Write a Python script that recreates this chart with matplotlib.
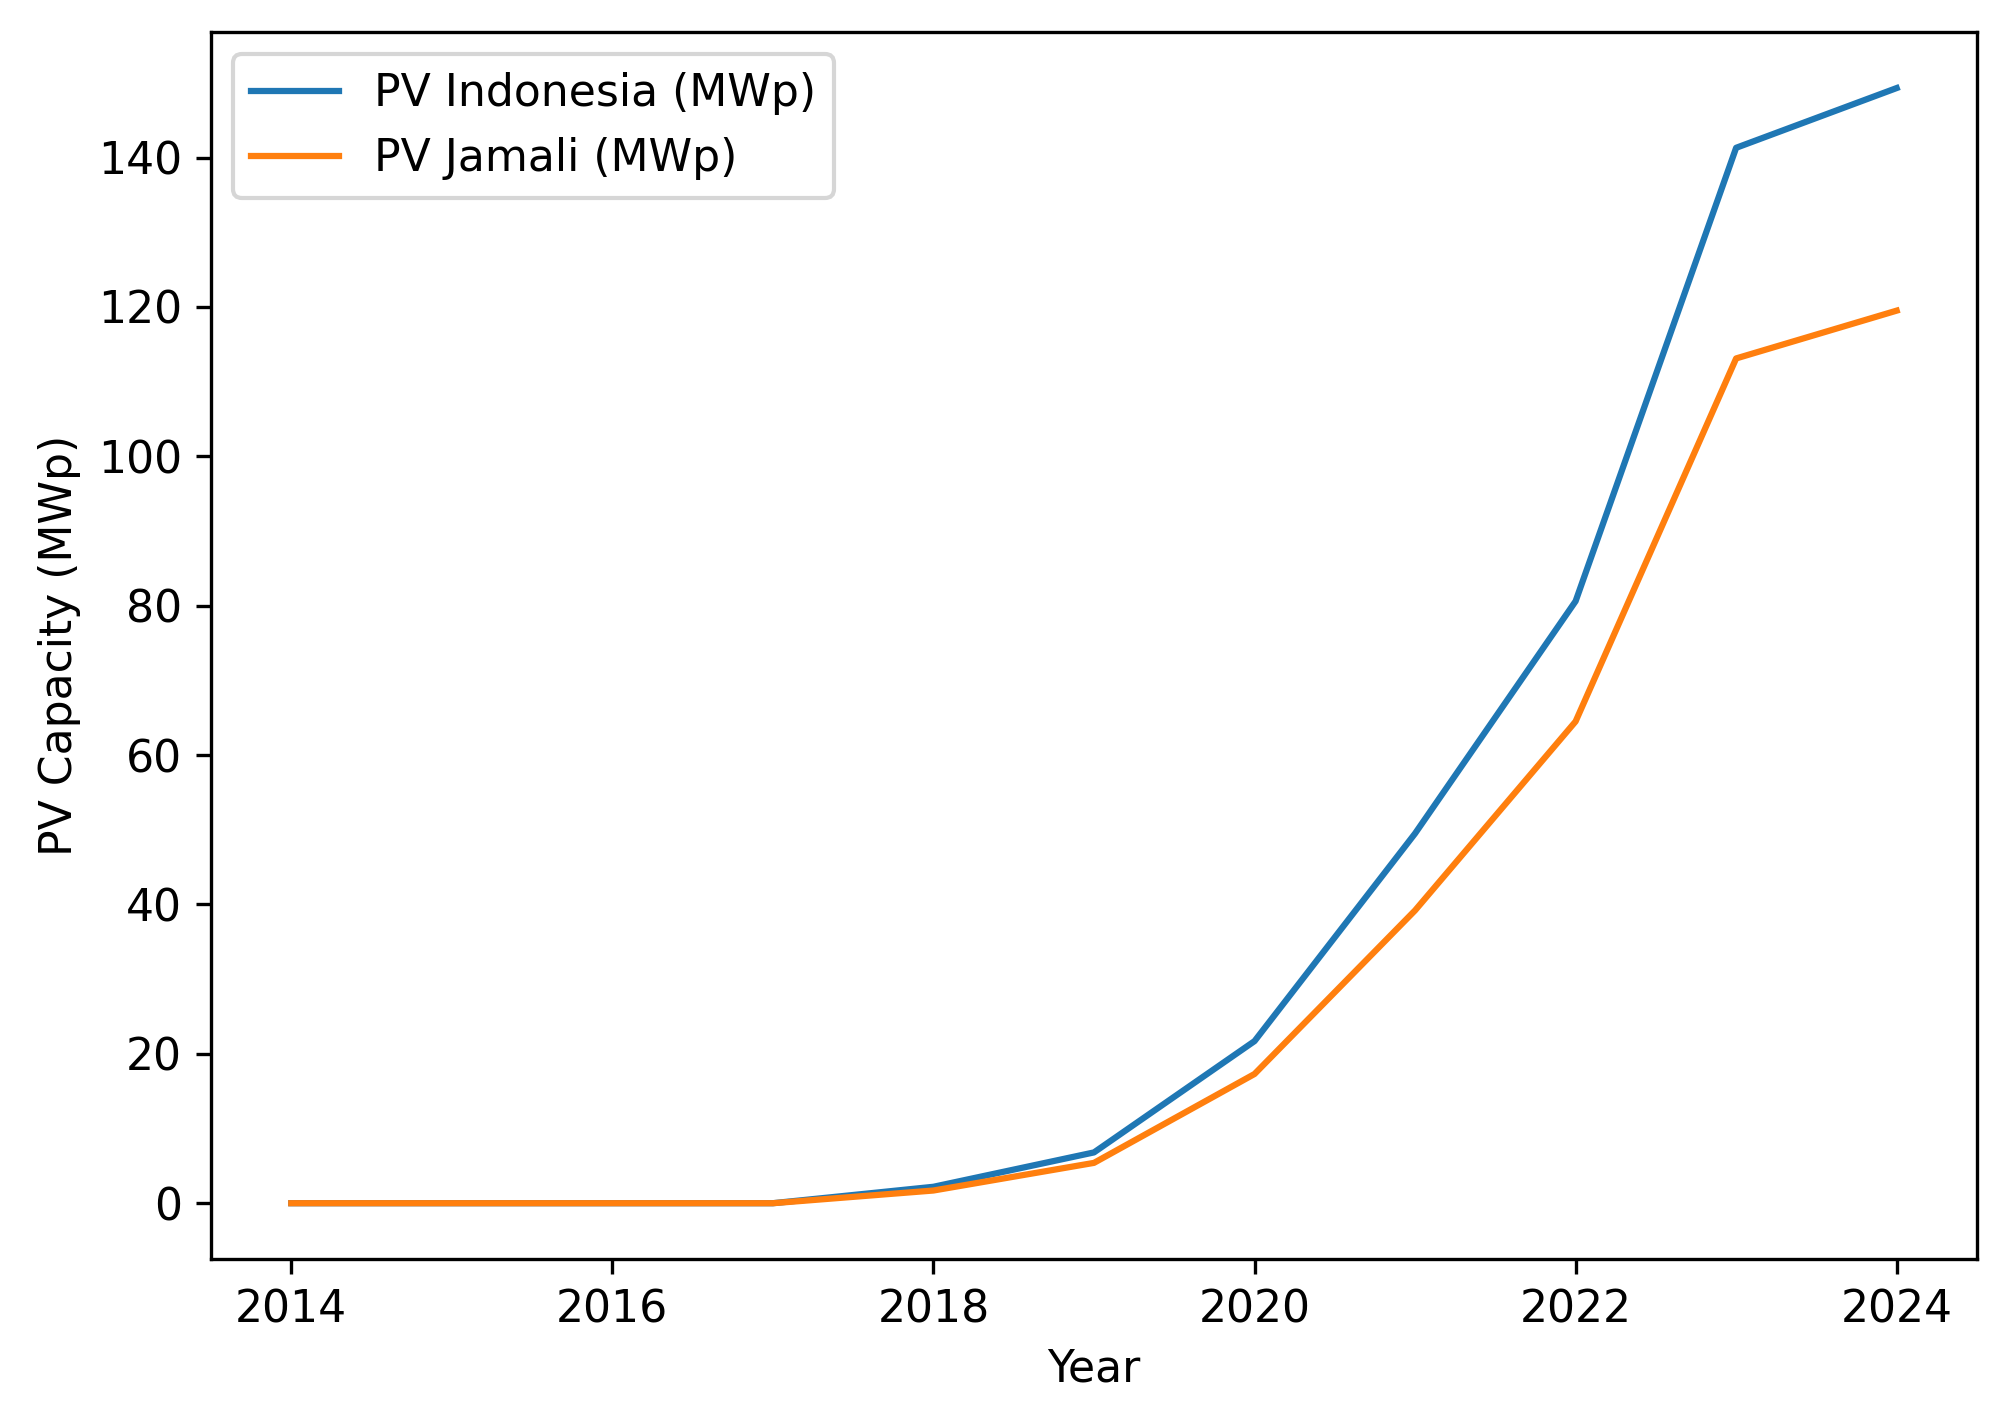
import matplotlib
matplotlib.use("Agg")
import matplotlib.pyplot as plt

years = [2014, 2015, 2016, 2017, 2018, 2019, 2020, 2021, 2022, 2023, 2024]
pv_indonesia = [0, 0, 0, 0, 2.2, 6.8, 21.7, 49.5, 80.6, 141.3, 149.3]
pv_jamali = [0, 0, 0, 0, 1.7, 5.4, 17.3, 39.2, 64.5, 113.1, 119.5]

plt.rcParams["font.size"] = 10.6

fig = plt.figure(figsize=(2004 / 300, 1404 / 300), dpi=300)
ax = fig.add_axes([0.1053, 0.1033, 0.8812, 0.8737])
ax.plot(years, pv_indonesia, label="PV Indonesia (MWp)")
ax.plot(years, pv_jamali, label="PV Jamali (MWp)")
ax.set_xlabel("Year")
ax.set_ylabel("PV Capacity (MWp)")
ax.legend(loc="upper left", fontsize=10.6)
fig.savefig("out.png", dpi=300)
